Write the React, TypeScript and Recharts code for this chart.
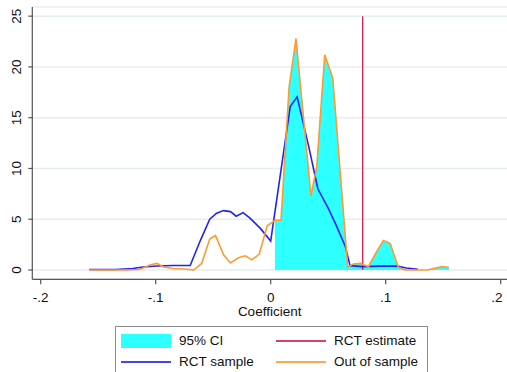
import { ComposedChart, Line, Area, XAxis, YAxis, CartesianGrid, ReferenceLine } from 'recharts';

// RCT sample density
const rctX = [-0.158, -0.135, -0.12, -0.111, -0.099, -0.085, -0.07, -0.061, -0.053, -0.047, -0.041, -0.035, -0.03, -0.024, -0.018, -0.009, 0.0, 0.017, 0.023, 0.033, 0.041, 0.05, 0.057, 0.065, 0.069, 0.08, 0.095, 0.105, 0.11, 0.118, 0.128];
const rctY = [0.05, 0.05, 0.15, 0.3, 0.4, 0.45, 0.45, 2.95, 5.0, 5.6, 5.85, 5.75, 5.3, 5.65, 5.1, 4.1, 2.85, 16.1, 17.05, 12.2, 8.0, 6.1, 4.4, 2.3, 0.43, 0.33, 0.38, 0.4, 0.38, 0.2, 0.07];

// Out of sample density
const oosX = [-0.158, -0.14, -0.125, -0.114, -0.105, -0.099, -0.093, -0.085, -0.075, -0.067, -0.06, -0.053, -0.048, -0.041, -0.035, -0.028, -0.022, -0.0165, -0.01, -0.003, 0.0037, 0.009, 0.016, 0.022, 0.035, 0.04, 0.047, 0.054, 0.067, 0.072, 0.078, 0.085, 0.0916, 0.098, 0.104, 0.111, 0.117, 0.136, 0.149, 0.155];
const oosY = [0.0, 0.0, 0.0, 0.05, 0.5, 0.65, 0.3, 0.15, 0.1, 0.0, 0.65, 3.05, 3.4, 1.5, 0.7, 1.2, 1.4, 1.0, 1.55, 4.35, 4.9, 4.9, 18.0, 22.8, 7.3, 10.1, 21.2, 18.9, 0.3, 0.6, 0.65, 0.33, 1.7, 2.9, 2.6, 0.27, 0.0, 0.0, 0.33, 0.25];

// 95% CI range (shaded under out-of-sample density)
const ciLow = 0.0037;
const ciHigh = 0.155;
const rctEstimate = 0.08;

const xTicks = [-0.2, -0.1, 0, 0.1, 0.2];
const xTickLabels = ['-.2', '-.1', '0', '.1', '.2'];
const yTicks = [0, 5, 10, 15, 20, 25];

const legendItems = [
  { name: '95% CI', color: '#2effff', kind: 'rect' },
  { name: 'RCT estimate', color: '#d51f4c', kind: 'line' },
  { name: 'RCT sample', color: '#2222f5', kind: 'line' },
  { name: 'Out of sample', color: '#ff9a30', kind: 'line' },
];

const FONT = '"Liberation Sans", Arial, sans-serif';

const rctData = rctX.map((x, i) => ({ x, y: rctY[i] }));
const oosData = oosX.map((x, i) => ({ x, y: oosY[i] }));
const ciData = oosData.filter((d) => d.x >= ciLow && d.x <= ciHigh);

function XTick({ x, y, payload }: any) {
  const idx = xTicks.findIndex((t) => Math.abs(t - payload.value) < 1e-9);
  return (
    <text x={x} y={y + 15.5} textAnchor="middle" fontSize={13.5} fontFamily={FONT} fill="#111">
      {idx >= 0 ? xTickLabels[idx] : payload.value}
    </text>
  );
}

function YTick({ y, payload }: any) {
  const bx = 21;
  return (
    <text
      x={bx}
      y={y}
      transform={`rotate(-90, ${bx}, ${y})`}
      textAnchor="middle"
      fontSize={13.5}
      fontFamily={FONT}
      fill="#111"
    >
      {payload.value}
    </text>
  );
}

function LegendBox() {
  return (
    <div
      style={{
        position: 'absolute',
        left: 115,
        top: 326,
        width: 311,
        height: 56,
        border: '1px solid #8a8a8a',
        background: '#fff',
        fontFamily: FONT,
        fontSize: 13.5,
        color: '#111',
      }}
    >
      {legendItems.map((item, i) => {
        const col = i % 2;
        const row = Math.floor(i / 2);
        const left = col === 0 ? 5 : 160;
        const top = row === 0 ? 6 : 27;
        return (
          <div key={item.name} style={{ position: 'absolute', left, top, height: 15, display: 'flex', alignItems: 'center' }}>
            {item.kind === 'rect' ? (
              <div style={{ width: 50, height: 14, background: item.color }} />
            ) : (
              <div style={{ width: 50, height: 2, background: item.color, opacity: 0.85 }} />
            )}
            <span style={{ marginLeft: 8, whiteSpace: 'nowrap' }}>{item.name}</span>
          </div>
        );
      })}
    </div>
  );
}

export default function App() {
  return (
    <div style={{ position: 'relative', width: 507, height: 372, overflow: 'hidden', background: '#fff' }}>
      <style>{'body{margin:0;}'}</style>
      <ComposedChart width={507} height={372} margin={{ top: 7, right: 0, bottom: 52.7, left: 0 }}>
        <CartesianGrid vertical={false} stroke="#e4eeef" strokeWidth={1.5} />
        <XAxis
          type="number"
          dataKey="x"
          domain={[-0.2073, 0.2055]}
          ticks={xTicks}
          tick={<XTick />}
          tickSize={5}
          tickMargin={2}
          height={40}
          stroke="#555"
          strokeWidth={1.2}
          allowDataOverflow
          label={{ value: 'Coefficient', position: 'insideBottom', offset: 3, fontSize: 13.5, fontFamily: FONT, fill: '#111' }}
        />
        <YAxis
          type="number"
          dataKey="y"
          domain={[-0.915, 25.9]}
          ticks={yTicks}
          tick={<YTick />}
          tickSize={4}
          width={32.3}
          stroke="#555"
          strokeWidth={1.2}
          allowDataOverflow
        />
        <Area
          data={ciData}
          type="linear"
          dataKey="y"
          baseValue={0}
          fill="#2effff"
          fillOpacity={1}
          stroke="none"
          isAnimationActive={false}
        />
        <ReferenceLine
          segment={[{ x: rctEstimate, y: 0 }, { x: rctEstimate, y: 25 }]}
          stroke="#d51f4c"
          strokeWidth={1.3}
        />
        <Line
          data={rctData}
          type="linear"
          dataKey="y"
          stroke="#2222f5"
          strokeWidth={1.6}
          dot={false}
          isAnimationActive={false}
        />
        <Line
          data={oosData}
          type="linear"
          dataKey="y"
          stroke="#ff9a30"
          strokeWidth={1.6}
          dot={false}
          isAnimationActive={false}
        />
      </ComposedChart>
      <LegendBox />
    </div>
  );
}
